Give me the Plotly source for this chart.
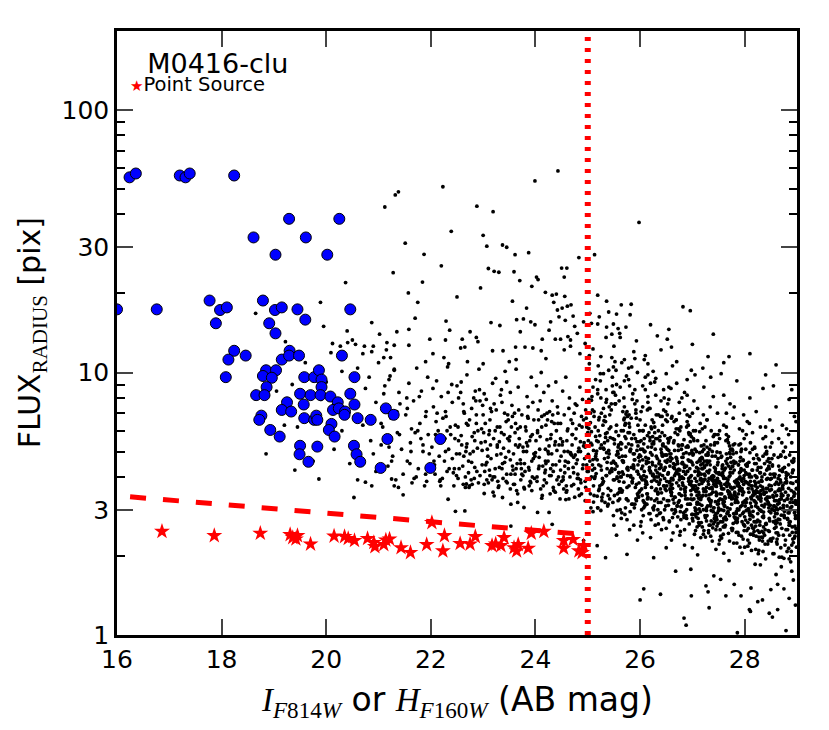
"""
plot.py - FLUX_RADIUS vs magnitude for the M0416 cluster field.

Black dots: all detections, blue circles: cluster members,
red stars: point sources, dashed red: stellar locus cut,
dotted red: magnitude limit.
"""

import plotly.graph_objects as go

# ---- cluster members (blue circles): (mag, radius) ----
CLUSTER = [
    (16.24, 55.4), (16.36, 57.3), (17.2, 56.3), (17.31, 55.4), (17.39, 57.3), (18.24, 56.3),
    (18.61, 32.7), (19.29, 38.5), (19.61, 32.7), (19.03, 28.1), (20.02, 28.1), (20.25, 38.5),
    (16.0, 17.4), (16.76, 17.4), (17.77, 18.8), (17.97, 17.3), (18.1, 17.7), (17.89, 15.4),
    (18.79, 18.8), (19.02, 17.3), (19.15, 17.7), (19.45, 17.4), (19.6, 15.9), (18.91, 15.4),
    (19.03, 14.1), (20.46, 17.4), (18.24, 12.1), (18.13, 11.2), (18.46, 11.6), (18.08, 9.6),
    (19.3, 12.1), (19.15, 11.2), (19.29, 11.6), (19.48, 11.6), (20.3, 11.6), (18.85, 10.2),
    (18.79, 9.7), (19.04, 10.2), (18.96, 9.55), (18.86, 8.8), (18.66, 8.2), (18.82, 8.2),
    (19.58, 9.6), (19.77, 9.6), (19.86, 10.2), (19.91, 9.4), (19.91, 8.8), (20.54, 9.6),
    (19.5, 8.3), (19.7, 8.2), (19.89, 8.2), (20.08, 8.1), (20.46, 8.3), (19.25, 7.7),
    (19.57, 7.55), (20.22, 7.7), (20.54, 7.55), (19.15, 7.2), (19.33, 7.1), (20.13, 7.2),
    (20.24, 7.3), (20.36, 7.1), (20.35, 6.9), (21.14, 7.3), (21.29, 6.9), (18.76, 6.85),
    (18.72, 6.6), (19.58, 6.7), (19.77, 6.6), (19.81, 6.85), (19.83, 6.6), (20.6, 6.7),
    (20.85, 6.6), (20.1, 6.37), (20.05, 6.04), (20.16, 5.7), (18.93, 6.04), (19.11, 5.7),
    (21.17, 5.58), (22.18, 5.58), (19.5, 5.26), (19.83, 5.22), (20.53, 5.26), (19.49, 4.88),
    (20.58, 4.88), (19.66, 4.57), (20.65, 4.57), (21.04, 4.33), (21.99, 4.33),
]

# ---- point sources (red stars) ----
POINT_SRC = [
    (16.86, 2.48), (17.86, 2.39), (18.74, 2.44), (19.31, 2.41), (19.36, 2.35), (19.42, 2.32),
    (19.45, 2.39), (19.70, 2.22), (20.15, 2.38), (20.35, 2.37), (20.42, 2.33), (20.54, 2.29),
    (20.79, 2.33), (20.91, 2.25), (20.93, 2.17), (21.1, 2.21), (21.14, 2.30), (21.21, 2.32),
    (21.43, 2.15), (21.61, 2.06), (21.92, 2.21), (22.02, 2.68), (22.26, 2.39), (22.23, 2.09),
    (22.56, 2.23), (22.75, 2.22), (22.85, 2.37), (23.17, 2.19), (23.24, 2.22), (23.34, 2.19),
    (23.4, 2.35), (23.59, 2.15), (23.67, 2.21), (23.64, 2.09), (23.86, 2.14), (23.92, 2.44),
    (24.16, 2.48), (24.54, 2.29), (24.54, 2.14), (24.72, 2.31), (24.83, 2.09), (24.92, 2.19),
    (24.89, 2.06),
]

# stellar locus cut and magnitude limit
LOCUS_MAG = [16.25, 25.0]
LOCUS_RAD = [3.36, 2.41]
MAG_LIMIT = 25.0

# ---- all detections (black dots) ----
DOTS_UPPER = [
    (21.38, 48.8), (21.32, 47.5), (21.12, 42.7), (22.23, 51), (22.88, 43), (23.19, 41), (23.99, 53.7),
    (24.43, 58.6), (22.39, 34.5), (23.0, 33.3), (23.07, 30.3), (23.37, 30.6), (23.45, 30), (23.61, 28.1),
    (23.87, 28.6), (21.51, 31.1), (21.87, 28.2), (23.1, 24.9), (23.21, 24.3), (23.3, 24.1), (23.59, 24.2),
    (23.7, 22.4), (24.02, 23.1), (23.93, 21.3), (24.05, 22.6), (24.5, 25), (24.6, 25), (24.55, 23.1),
    (24.83, 27.4), (25.13, 28.1), (25.98, 37.3), (21.28, 24.0), (21.84, 22.1), (20.37, 22.0), (23.56, 18.7),
    (24.19, 20.2), (24.32, 19.7), (24.4, 19.9), (24.35, 18.5), (24.56, 19.5), (23.83, 17.6), (24.42, 17.3),
    (24.51, 17.6), (24.61, 17.9), (24.68, 18.1), (25.19, 19.7), (25.36, 18.7), (25.64, 18.1), (25.83, 18.2),
    (26.82, 17.8), (26.96, 17.2), (25.81, 16.6), (25.04, 16.8), (25.4, 17), (25.55, 16.7), (25.22, 16.3),
    (21.57, 20.1), (21.75, 18.5), (19.89, 18.5), (21.7, 16.1), (21.58, 14.6), (21.35, 14.3), (21.02, 14.0),
    (20.87, 15.5), (22.29, 15.7), (23.15, 15.5), (23.32, 15.1), (23.64, 15.9), (23.77, 16), (23.91, 15.6),
    (23.99, 15.2), (24.29, 15.6), (24.45, 16.3), (24.57, 15.8), (24.72, 16.4), (24.75, 15), (24.92, 15.6),
    (25.07, 15.4), (25.19, 15.3), (25.36, 14.9), (25.49, 15.3), (25.58, 14.7), (25.73, 14.9), (22.36, 14.5),
    (22.28, 13.3), (22.6, 13.4), (22.75, 14.3), (22.87, 13.6), (22.9, 13.1), (23.71, 14.3), (24.13, 13.4),
    (24.26, 14.5), (24.38, 13.4), (24.48, 13.4), (24.62, 13.7), (24.67, 13.3), (24.8, 14.1), (25.35, 13.6),
    (25.46, 14), (25.61, 14.1), (25.62, 13.6), (25.93, 13.2), (26.33, 13.8), (26.52, 13.4), (21.98, 13.4),
    (21.16, 13.0), (21.3, 12.7), (21.58, 12.7), (20.27, 12.6), (20.41, 13.0), (20.56, 12.8), (20.73, 12.6),
    (20.87, 12.0), (20.09, 11.9), (21.1, 11.4), (21.23, 11.4), (22.04, 11.8), (22.25, 11.4), (22.34, 10.8),
    (22.57, 12.4), (22.65, 12.5), (23.18, 12.1), (23.38, 12.1), (23.62, 12.5), (23.63, 11.2), (23.8, 12.5),
    (23.95, 12.4), (24.11, 12.1), (24.55, 12.2), (24.67, 12.6), (24.2, 11.3), (24.85, 11.8), (24.95, 12.9),
    (25.1, 12.3), (25.25, 11.5), (25.5, 12.6), (25.7, 11.2), (25.88, 12.0), (26.1, 11.6), (26.4, 12.2),
    (26.7, 11.0), (27.0, 12.8), (27.3, 11.5), (27.6, 10.9), (28.1, 11.8), (28.6, 10.7), (26.2, 15.2),
    (26.55, 14.6), (27.4, 14.0), (22.7, 11.0), (23.0, 10.8), (23.5, 11.0), (21.9, 11.0), (22.5, 19.4),
    (22.95, 21.0), (22.2, 25.5),
]

DOTS_LEFT = [
    (18.65, 16.8), (19.22, 13.1), (19.95, 15.0), (20.12, 12.9), (20.4, 14.4), (20.7, 11.8), (20.9, 12.6),
    (20.6, 10.4), (20.82, 9.6), (21.0, 10.9), (20.3, 10.1), (19.6, 10.9), (19.05, 8.5), (19.35, 9.0),
    (20.0, 9.2), (20.75, 8.7), (21.1, 8.3), (20.95, 7.7), (21.2, 9.4), (19.45, 6.2), (19.9, 7.9),
    (20.3, 6.0), (20.7, 6.3), (20.85, 5.5), (21.05, 6.4), (20.9, 4.9), (21.2, 5.2), (19.75, 4.6),
    (20.15, 5.1), (19.2, 6.3), (19.8, 5.2), (20.45, 4.5), (20.95, 4.2), (21.25, 4.6), (20.6, 3.9),
    (21.3, 3.7), (18.85, 4.9), (19.4, 4.25), (21.15, 12.2), (20.5, 13.3), (21.3, 10.3), (21.35, 7.1),
    (21.4, 5.8), (19.86, 3.93), (20.53, 3.34), (20.75, 3.82), (20.87, 3.7), (21.25, 3.93), (21.38, 3.65),
    (21.47, 3.42), (22.33, 3.29), (22.68, 3.76), (22.47, 2.96), (22.65, 2.97), (23.02, 3.46), (23.21, 3.39),
    (23.37, 3.34), (23.53, 3.15), (23.66, 3.2), (23.78, 3.06), (24.04, 2.93), (24.26, 2.93), (23.53, 2.6),
    (24.32, 2.64),
]

DOTS_MID = [
    (21.05, 5.3), (21.12, 8.9), (21.18, 4.4), (21.24, 6.7), (21.3, 10.2), (21.36, 5.9), (21.41, 7.6),
    (21.47, 4.1), (21.08, 6.2), (21.22, 9.7), (21.33, 3.9), (21.44, 5.1), (21.15, 7.2), (21.39, 8.4),
    (21.27, 4.8), (21.52, 6.9), (21.55, 4.6), (21.58, 9.1), (21.61, 5.4), (21.64, 3.8), (21.67, 7.8),
    (21.7, 5.9), (21.73, 10.4), (21.76, 4.3), (21.79, 6.4), (21.82, 8.5), (21.85, 5.0), (21.88, 3.7),
    (21.91, 7.1), (21.94, 9.6), (21.97, 4.9), (21.54, 8.0), (21.63, 6.1), (21.72, 4.0), (21.81, 5.6),
    (21.9, 6.8), (21.99, 4.4), (22.02, 5.2), (22.05, 7.4), (22.08, 4.1), (22.11, 9.3), (22.14, 6.0),
    (22.17, 3.85), (22.2, 8.1), (22.23, 5.5), (22.26, 4.6), (22.29, 6.8), (22.32, 10.5), (22.35, 4.3),
    (22.38, 5.8), (22.41, 7.7), (22.44, 3.7), (22.47, 6.3), (22.49, 4.9), (22.04, 8.7), (22.1, 6.5),
    (22.16, 4.8), (22.22, 3.95), (22.28, 7.1), (22.34, 5.1), (22.4, 9.0), (22.46, 5.6), (22.07, 4.45),
    (22.31, 6.0), (22.43, 4.15), (22.52, 6.2), (22.54, 4.3), (22.57, 8.4), (22.59, 5.3), (22.62, 3.75),
    (22.64, 7.0), (22.67, 5.0), (22.69, 9.8), (22.72, 4.6), (22.74, 6.6), (22.77, 3.9), (22.79, 5.7),
    (22.82, 8.0), (22.84, 4.35), (22.87, 6.9), (22.89, 5.15), (22.92, 10.3), (22.94, 4.05), (22.97, 6.1),
    (22.99, 7.5), (22.53, 5.5), (22.58, 9.2), (22.63, 4.8), (22.68, 6.4), (22.73, 3.65), (22.78, 7.3),
    (22.83, 5.9), (22.88, 4.2), (22.93, 8.6), (22.98, 5.05), (22.66, 4.0), (22.86, 7.8), (23.01, 5.9),
    (23.03, 4.2), (23.06, 7.9), (23.08, 5.1), (23.1, 3.8), (23.13, 6.6), (23.15, 4.7), (23.18, 9.1),
    (23.2, 5.6), (23.22, 4.0), (23.25, 7.2), (23.27, 5.3), (23.3, 3.7), (23.32, 6.2), (23.35, 8.6),
    (23.37, 4.5), (23.4, 5.8), (23.42, 10.1), (23.45, 4.1), (23.47, 6.9), (23.49, 5.0), (23.02, 8.3),
    (23.07, 4.55), (23.12, 6.0), (23.17, 3.9), (23.21, 7.6), (23.26, 4.85), (23.31, 5.45), (23.36, 4.3),
    (23.41, 7.0), (23.46, 3.8), (23.04, 6.4), (23.14, 5.3), (23.24, 9.5), (23.34, 4.9), (23.44, 6.5),
    (23.51, 5.7), (23.53, 4.1), (23.55, 7.5), (23.58, 4.9), (23.6, 3.75), (23.62, 6.4), (23.65, 4.5),
    (23.67, 8.8), (23.7, 5.3), (23.72, 3.9), (23.74, 6.9), (23.77, 5.0), (23.79, 3.6), (23.82, 6.0),
    (23.84, 8.1), (23.87, 4.35), (23.89, 5.5), (23.92, 9.6), (23.94, 4.0), (23.97, 6.6), (23.99, 4.8),
    (23.52, 8.4), (23.56, 4.4), (23.61, 5.9), (23.64, 3.55), (23.68, 7.2), (23.71, 4.65), (23.76, 5.2),
    (23.8, 4.2), (23.85, 6.8), (23.88, 3.7), (23.91, 5.7), (23.95, 7.7), (23.98, 3.95), (23.54, 6.2),
    (23.63, 10.3), (23.73, 4.3), (23.83, 5.4), (23.93, 4.6), (23.66, 6.1), (24.01, 5.5), (24.03, 4.0),
    (24.05, 7.2), (24.07, 4.75), (24.1, 3.6), (24.12, 6.2), (24.14, 4.4), (24.16, 8.4), (24.19, 5.1),
    (24.21, 3.8), (24.23, 6.6), (24.25, 4.9), (24.28, 3.45), (24.3, 5.8), (24.32, 7.8), (24.34, 4.2),
    (24.37, 5.3), (24.39, 9.2), (24.41, 3.9), (24.43, 6.4), (24.46, 4.6), (24.48, 5.6), (24.02, 8.9),
    (24.06, 4.3), (24.09, 5.7), (24.13, 3.4), (24.17, 6.9), (24.2, 4.5), (24.24, 5.0), (24.27, 4.05),
    (24.31, 6.5), (24.35, 3.55), (24.38, 5.45), (24.42, 7.4), (24.45, 3.75), (24.49, 4.8), (24.04, 6.0),
    (24.11, 10.0), (24.18, 4.15), (24.26, 5.25), (24.33, 4.45), (24.4, 6.0), (24.47, 3.3), (24.22, 7.0),
    (24.51, 5.3), (24.53, 3.9), (24.55, 6.9), (24.57, 4.6), (24.59, 3.5), (24.61, 6.0), (24.63, 4.3),
    (24.65, 8.0), (24.67, 4.95), (24.69, 3.7), (24.71, 6.4), (24.73, 4.75), (24.75, 3.35), (24.77, 5.6),
    (24.79, 7.5), (24.81, 4.1), (24.83, 5.15), (24.85, 8.8), (24.87, 3.8), (24.89, 6.2), (24.91, 4.45),
    (24.93, 5.4), (24.95, 3.25), (24.97, 6.7), (24.99, 4.2), (24.52, 8.5), (24.56, 4.15), (24.6, 5.5),
    (24.64, 3.3), (24.68, 6.6), (24.72, 4.35), (24.76, 4.85), (24.8, 3.95), (24.84, 6.3), (24.88, 3.45),
    (24.92, 5.25), (24.96, 7.2), (24.54, 3.6), (24.58, 9.6), (24.62, 5.0), (24.66, 4.0), (24.7, 5.8),
    (24.74, 7.0), (24.78, 4.5), (24.82, 3.6), (24.86, 5.0), (24.9, 7.9), (24.94, 4.7),
]

DOTS_MID_EXTRA = [
    (22.55, 4.9), (22.71, 6.3), (22.83, 3.95), (22.96, 5.4), (23.05, 4.45), (23.16, 7.1), (23.28, 3.85),
    (23.39, 5.15), (23.48, 6.6), (23.57, 4.25), (23.69, 5.6), (23.78, 3.65), (23.86, 7.4), (23.96, 4.7),
    (24.04, 5.9), (24.15, 3.7), (24.24, 4.6), (24.33, 6.9), (24.44, 4.0), (24.52, 5.45), (24.6, 3.55),
    (24.69, 4.85), (24.78, 6.1), (24.86, 3.9), (24.95, 5.2), (22.62, 7.6), (22.78, 4.55), (22.9, 6.0),
    (23.02, 3.75), (23.11, 5.8), (23.23, 4.3), (23.33, 8.2), (23.43, 4.75), (23.52, 3.6), (23.62, 5.3),
    (23.74, 4.1), (23.81, 6.2), (23.9, 3.85), (24.0, 4.95), (24.09, 7.8), (24.19, 4.25), (24.29, 5.6),
    (24.38, 3.5), (24.48, 6.4), (24.56, 4.4), (24.64, 7.3), (24.73, 3.75), (24.82, 5.0), (24.9, 4.3),
    (24.98, 6.2), (22.68, 5.2), (22.85, 8.5), (23.0, 6.9), (23.13, 4.05), (23.27, 6.2), (23.38, 3.95),
    (23.5, 5.5), (23.6, 7.0), (23.72, 4.5), (23.85, 5.25), (23.93, 3.55), (24.07, 4.4), (24.2, 6.3),
    (24.3, 4.05), (24.41, 5.05), (24.5, 3.85), (24.62, 4.55), (24.7, 5.3), (24.8, 4.65), (24.88, 6.8),
    (24.96, 3.65), (22.74, 3.7), (23.19, 3.5), (23.66, 3.45), (24.12, 3.32), (24.58, 3.28), (24.84, 3.4),
    (22.5, 8.9), (23.45, 9.2), (24.25, 8.9),
]

DOTS_FRINGE = [
    (26.55, 7.9), (26.7, 9.1), (26.85, 8.4), (26.98, 10.2), (27.1, 7.3), (27.22, 8.8), (27.35, 9.6),
    (27.48, 7.0), (27.6, 8.2), (27.72, 7.6), (27.85, 9.3), (27.98, 6.9), (28.1, 8.0), (28.22, 7.1),
    (28.35, 8.7), (28.48, 6.6), (28.6, 7.4), (28.72, 6.3), (28.85, 7.9), (28.95, 6.8), (26.62, 10.6),
    (26.9, 6.9), (27.05, 9.8), (27.28, 6.6), (27.55, 9.9), (27.8, 7.4), (28.05, 6.5), (28.3, 6.2),
    (28.55, 8.9), (28.8, 6.1), (26.75, 7.0), (27.15, 6.4), (27.4, 8.1), (27.65, 6.2), (27.9, 6.1),
    (28.15, 5.9), (28.4, 5.7), (28.65, 5.6), (28.9, 5.4), (28.98, 6.5), (26.45, 8.6), (26.3, 9.5),
    (26.15, 10.8), (26.05, 8.9), (25.9, 11.3), (26.6, 12.5), (27.2, 10.4), (27.7, 11.5), (28.4, 9.8),
    (28.9, 8.6),
]

DOTS_BAND_TOP = [
    (25.1, 8.8), (25.3, 9.9), (25.5, 8.4), (25.7, 9.3), (25.9, 8.6), (26.1, 9.6), (26.3, 8.2),
    (25.2, 10.6), (25.45, 7.6), (25.65, 10.9), (25.85, 7.9), (26.05, 7.4), (26.25, 10.1), (26.45, 7.2),
    (25.05, 7.0), (25.25, 8.0), (25.55, 9.0), (25.75, 7.1), (25.95, 10.0), (26.15, 8.1), (26.35, 6.9),
    (26.55, 8.8), (26.75, 7.7), (26.95, 6.8), (25.15, 9.4), (25.4, 10.2), (25.6, 7.8), (25.8, 8.9),
    (26.0, 6.6), (26.2, 9.1), (26.4, 7.8), (26.6, 6.7), (26.8, 8.0), (27.0, 7.0), (25.35, 8.6),
    (25.52, 11.0), (25.78, 10.4), (26.08, 11.2), (26.5, 9.9), (26.9, 9.4),
]

DOTS_LOW = [
    (26.07, 1.50), (26.0, 1.36), (26.39, 1.43), (26.84, 1.16), (26.98, 1.41), (27.26, 1.54), (27.32, 1.27),
    (27.64, 1.41), (27.93, 1.41), (28.09, 1.25), (28.25, 1.34), (28.47, 1.21), (28.63, 1.25), (28.79, 1.04),
    (28.85, 1.38), (28.34, 1.36), (28.5, 1.49), (28.63, 1.56), (28.12, 1.51), (27.8, 1.56), (27.54, 1.63),
    (27.41, 1.68), (26.97, 1.78), (26.68, 1.75), (26.26, 1.97), (25.75, 2.03), (25.34, 1.97), (25.18, 2.19),
    (24.92, 2.29), (27.3, 1.46), (26.88, 1.09), (27.86, 1.02), (28.11, 1.23), (28.53, 1.17), (28.93, 1.62),
    (28.97, 1.3), (28.7, 1.82), (28.2, 1.86), (27.7, 1.92), (27.1, 2.02), (26.5, 2.15), (25.95, 2.3),
    (25.55, 2.4), (28.9, 1.75), (28.4, 1.95), (27.95, 2.05), (27.45, 2.12), (26.85, 2.2), (26.2, 2.35),
    (28.75, 1.5), (25.5, 2.62), (25.8, 2.52), (26.05, 2.45), (26.6, 2.3), (27.0, 2.15), (27.6, 2.05),
    (28.3, 1.85), (28.6, 1.7),
]

# dense faint population, one list per 0.25 mag column
CORE_2500 = [
    (25.13, 4.31), (25.02, 6.12), (25.21, 3.55), (25.07, 7.84), (25.17, 5.02), (25.10, 4.66), (25.24, 9.3),
    (25.04, 3.92), (25.15, 5.71), (25.19, 8.6), (25.01, 4.88), (25.11, 3.21), (25.22, 6.75), (25.06, 5.38),
    (25.16, 4.12), (25.09, 7.2), (25.20, 5.45), (25.03, 10.8), (25.14, 4.02), (25.23, 3.7), (25.08, 8.1),
    (25.18, 3.38), (25.05, 6.44), (25.12, 7.1), (25.00, 5.9), (25.21, 4.45), (25.10, 2.95), (25.15, 4.8),
    (25.03, 11.6), (25.19, 3.05), (25.07, 5.95), (25.24, 9.9),
]
CORE_2525 = [
    (25.45, 4.52), (25.33, 6.8), (25.39, 3.62), (25.26, 5.3), (25.48, 8.4), (25.36, 4.05), (25.30, 7.3),
    (25.42, 3.3), (25.34, 5.66), (25.47, 9.6), (25.28, 3.95), (25.40, 5.05), (25.37, 4.3), (25.44, 6.2),
    (25.25, 2.98), (25.32, 4.7), (25.49, 10.5), (25.35, 7.7), (25.41, 4.9), (25.29, 3.45), (25.46, 11.4),
    (25.38, 5.5), (25.31, 6.55), (25.43, 4.22), (25.27, 3.75), (25.34, 5.85), (25.47, 8.9), (25.39, 3.15),
    (25.30, 5.15), (25.42, 4.15), (25.36, 7.9), (25.49, 2.85),
]
CORE_2550 = [
    (25.56, 4.4), (25.68, 6.0), (25.60, 3.5), (25.73, 5.2), (25.53, 7.6), (25.64, 4.0), (25.70, 6.7),
    (25.58, 3.25), (25.51, 5.55), (25.66, 4.62), (25.62, 8.8), (25.74, 9.7), (25.55, 4.85), (25.69, 3.82),
    (25.59, 5.75), (25.65, 2.92), (25.52, 4.28), (25.71, 6.3), (25.61, 3.6), (25.57, 5.0), (25.67, 7.1),
    (25.50, 4.55), (25.72, 3.05), (25.63, 5.4), (25.54, 10.2), (25.68, 4.1), (25.59, 5.3), (25.64, 2.78),
    (25.73, 6.95), (25.56, 3.95), (25.70, 7.4), (25.51, 3.4), (25.66, 4.18), (25.60, 4.75), (25.74, 3.3),
    (25.53, 8.2),
]
CORE_2575 = [
    (25.88, 4.3), (25.77, 5.9), (25.96, 3.4), (25.82, 5.1), (25.92, 7.0), (25.85, 3.85), (25.99, 4.6),
    (25.79, 6.4), (25.90, 3.15), (25.94, 5.45), (25.76, 4.05), (25.86, 8.3), (25.97, 4.75), (25.81, 2.95),
    (25.91, 3.65), (25.84, 5.6), (25.95, 4.2), (25.78, 9.4), (25.89, 4.9), (25.98, 3.5), (25.83, 6.7),
    (25.93, 3.25), (25.80, 6.2), (25.87, 4.45), (25.75, 2.75), (25.96, 5.25), (25.85, 3.8), (25.90, 7.6),
    (25.78, 5.35), (25.94, 7.8), (25.82, 4.0), (25.99, 6.0), (25.88, 2.62), (25.76, 4.35), (25.92, 3.3),
    (25.84, 10.5),
]
CORE_2600 = [
    (26.20, 4.2), (26.08, 5.6), (26.14, 3.3), (26.01, 4.8), (26.23, 6.6), (26.11, 3.75), (26.05, 4.4),
    (26.17, 5.9), (26.09, 3.1), (26.22, 5.2), (26.03, 3.95), (26.15, 7.7), (26.12, 4.6), (26.19, 2.9),
    (26.00, 3.55), (26.07, 5.35), (26.24, 4.05), (26.10, 8.6), (26.16, 4.7), (26.04, 3.4), (26.21, 6.2),
    (26.13, 3.15), (26.06, 6.0), (26.18, 4.25), (26.02, 2.7), (26.09, 5.0), (26.22, 3.65), (26.14, 7.2),
    (26.05, 5.1), (26.17, 7.3), (26.11, 3.85), (26.24, 5.7), (26.01, 2.6), (26.20, 4.15), (26.08, 3.2),
    (26.15, 9.8), (26.03, 3.0), (26.19, 5.5), (26.12, 4.0), (26.23, 4.55),
]
CORE_2625 = [
    (26.31, 4.0), (26.43, 5.3), (26.35, 3.2), (26.48, 4.6), (26.28, 6.2), (26.39, 3.6), (26.45, 4.25),
    (26.33, 5.6), (26.26, 3.0), (26.41, 4.95), (26.37, 3.8), (26.49, 7.1), (26.30, 4.4), (26.44, 2.8),
    (26.34, 3.45), (26.40, 5.1), (26.27, 3.9), (26.46, 8.0), (26.36, 4.5), (26.32, 3.3), (26.42, 5.9),
    (26.25, 3.05), (26.47, 5.75), (26.38, 4.1), (26.29, 2.62), (26.43, 4.8), (26.34, 3.5), (26.39, 6.8),
    (26.48, 4.85), (26.31, 6.9), (26.45, 3.7), (26.26, 5.45), (26.41, 2.52), (26.35, 4.0), (26.49, 3.1),
    (26.28, 9.2), (26.37, 2.9), (26.44, 5.25), (26.32, 3.85), (26.40, 4.35),
]
CORE_2650 = [
    (26.63, 3.9), (26.52, 5.1), (26.71, 3.1), (26.57, 4.4), (26.67, 5.9), (26.60, 3.5), (26.74, 4.1),
    (26.54, 5.4), (26.65, 2.9), (26.69, 4.75), (26.51, 3.7), (26.61, 6.8), (26.72, 4.25), (26.56, 2.72),
    (26.66, 3.35), (26.59, 4.9), (26.70, 3.8), (26.53, 7.6), (26.64, 4.35), (26.73, 3.2), (26.58, 5.65),
    (26.68, 2.95), (26.55, 5.5), (26.62, 3.95), (26.50, 2.55), (26.71, 4.6), (26.60, 3.4), (26.65, 6.5),
    (26.53, 4.65), (26.69, 6.6), (26.57, 3.6), (26.74, 5.25), (26.63, 2.45), (26.51, 3.85), (26.67, 3.0),
    (26.59, 8.7), (26.72, 2.82), (26.55, 5.05), (26.61, 3.75), (26.70, 4.2), (26.66, 4.05), (26.52, 3.25),
    (26.64, 4.5), (26.58, 3.55), (26.73, 6.1),
]
CORE_2675 = [
    (26.95, 3.8), (26.83, 4.9), (26.89, 3.0), (26.76, 4.25), (26.98, 5.7), (26.86, 3.4), (26.80, 4.0),
    (26.92, 5.2), (26.84, 2.8), (26.97, 4.6), (26.78, 3.6), (26.90, 6.5), (26.87, 4.1), (26.94, 2.65),
    (26.75, 3.25), (26.82, 4.75), (26.99, 3.7), (26.85, 7.2), (26.91, 4.2), (26.79, 3.1), (26.96, 5.45),
    (26.88, 2.85), (26.81, 5.3), (26.93, 3.85), (26.77, 2.48), (26.84, 4.45), (26.97, 3.3), (26.89, 6.2),
    (26.80, 4.5), (26.92, 6.3), (26.86, 3.5), (26.99, 5.05), (26.76, 2.4), (26.95, 3.75), (26.83, 2.92),
    (26.90, 8.2), (26.78, 2.75), (26.94, 4.9), (26.87, 3.65), (26.98, 4.05), (26.81, 3.95), (26.91, 3.15),
    (26.85, 4.35), (26.75, 3.45), (26.96, 5.85),
]
CORE_2700 = [
    (27.06, 3.7), (27.18, 4.75), (27.10, 2.9), (27.23, 4.1), (27.03, 5.5), (27.14, 3.3), (27.20, 3.9),
    (27.08, 5.0), (27.01, 2.72), (27.16, 4.45), (27.12, 3.5), (27.24, 6.2), (27.05, 3.95), (27.19, 2.58),
    (27.09, 3.15), (27.15, 4.6), (27.02, 3.6), (27.21, 6.9), (27.11, 4.05), (27.07, 3.0), (27.17, 5.25),
    (27.00, 2.78), (27.22, 5.1), (27.13, 3.75), (27.04, 2.42), (27.18, 4.3), (27.09, 3.2), (27.14, 5.95),
    (27.23, 4.35), (27.06, 6.0), (27.20, 3.4), (27.01, 4.85), (27.16, 2.35), (27.10, 3.62), (27.24, 2.85),
    (27.03, 7.8), (27.12, 2.68), (27.19, 4.7), (27.07, 3.55), (27.15, 3.9), (27.21, 3.85), (27.05, 3.05),
    (27.11, 4.2), (27.17, 3.35), (27.02, 5.6), (27.22, 2.5), (27.08, 2.9), (27.13, 4.15),
]
CORE_2725 = [
    (27.38, 3.6), (27.27, 4.6), (27.46, 2.82), (27.32, 3.95), (27.42, 5.3), (27.35, 3.2), (27.49, 3.8),
    (27.29, 4.85), (27.40, 2.65), (27.44, 4.3), (27.26, 3.4), (27.36, 6.0), (27.47, 3.85), (27.31, 2.5),
    (27.41, 3.05), (27.34, 4.45), (27.45, 3.5), (27.28, 6.6), (27.39, 3.92), (27.48, 2.92), (27.33, 5.1),
    (27.43, 2.7), (27.30, 4.95), (27.37, 3.65), (27.25, 2.36), (27.46, 4.15), (27.35, 3.1), (27.40, 5.7),
    (27.28, 4.2), (27.44, 5.8), (27.32, 3.3), (27.49, 4.7), (27.38, 2.28), (27.26, 3.52), (27.42, 2.78),
    (27.34, 7.4), (27.47, 2.6), (27.30, 4.55), (27.36, 3.45), (27.45, 3.78), (27.41, 3.75), (27.27, 2.98),
    (27.39, 4.05), (27.33, 3.25), (27.48, 5.4), (27.31, 2.45), (27.43, 2.85), (27.37, 4.0),
]
CORE_2750 = [
    (27.70, 3.5), (27.58, 4.45), (27.64, 2.75), (27.51, 3.85), (27.73, 5.1), (27.61, 3.1), (27.55, 3.7),
    (27.67, 4.7), (27.59, 2.58), (27.72, 4.15), (27.53, 3.3), (27.65, 5.8), (27.62, 3.75), (27.69, 2.44),
    (27.50, 2.98), (27.57, 4.3), (27.74, 3.42), (27.60, 6.3), (27.66, 3.8), (27.54, 2.85), (27.71, 4.95),
    (27.63, 2.62), (27.56, 4.8), (27.68, 3.55), (27.52, 2.3), (27.59, 4.02), (27.72, 3.02), (27.64, 5.5),
    (27.55, 4.08), (27.67, 5.55), (27.61, 3.22), (27.74, 4.55), (27.51, 2.22), (27.70, 3.44), (27.58, 2.7),
    (27.65, 7.0), (27.53, 2.52), (27.69, 4.4), (27.62, 3.36), (27.73, 3.66), (27.56, 3.62), (27.66, 2.9),
    (27.60, 3.95), (27.50, 3.16), (27.71, 5.25), (27.54, 2.38), (27.63, 2.78), (27.68, 3.9),
]
CORE_2775 = [
    (27.81, 3.4), (27.93, 4.3), (27.85, 2.68), (27.98, 3.75), (27.78, 4.9), (27.89, 3.0), (27.95, 3.6),
    (27.83, 4.55), (27.76, 2.5), (27.91, 4.0), (27.87, 3.2), (27.99, 5.6), (27.80, 3.65), (27.94, 2.38),
    (27.84, 2.9), (27.90, 4.15), (27.77, 3.32), (27.96, 6.0), (27.86, 3.7), (27.82, 2.78), (27.92, 4.75),
    (27.75, 2.55), (27.97, 4.65), (27.88, 3.45), (27.79, 2.24), (27.93, 3.9), (27.84, 2.95), (27.89, 5.3),
    (27.98, 3.95), (27.81, 5.35), (27.95, 3.12), (27.76, 4.4), (27.91, 2.16), (27.85, 3.35), (27.99, 2.62),
    (27.78, 6.7), (27.87, 2.46), (27.94, 4.25), (27.82, 3.28), (27.90, 3.55), (27.96, 3.52), (27.80, 2.82),
    (27.86, 3.82), (27.92, 3.08), (27.77, 5.05), (27.97, 2.32), (27.83, 2.7), (27.88, 3.78),
]
CORE_2800 = [
    (28.13, 3.3), (28.02, 4.15), (28.21, 2.6), (28.07, 3.62), (28.17, 4.7), (28.10, 2.92), (28.24, 3.5),
    (28.04, 4.4), (28.15, 2.42), (28.19, 3.85), (28.01, 3.1), (28.11, 5.4), (28.22, 3.55), (28.06, 2.3),
    (28.16, 2.82), (28.09, 4.0), (28.20, 3.22), (28.03, 5.8), (28.14, 3.6), (28.23, 2.7), (28.08, 4.55),
    (28.18, 2.48), (28.05, 4.5), (28.12, 3.35), (28.00, 2.16), (28.21, 3.78), (28.10, 2.86), (28.15, 5.1),
    (28.03, 3.82), (28.19, 5.15), (28.07, 3.02), (28.24, 4.25), (28.13, 2.1), (28.01, 3.25), (28.17, 2.55),
    (28.09, 6.4), (28.22, 2.38), (28.05, 4.1), (28.11, 3.18), (28.20, 3.45), (28.16, 3.42), (28.02, 2.74),
    (28.14, 3.7), (28.08, 2.98), (28.23, 4.85),
]
CORE_2825 = [
    (28.45, 3.2), (28.33, 4.0), (28.39, 2.52), (28.26, 3.5), (28.48, 4.55), (28.36, 2.84), (28.30, 3.4),
    (28.42, 4.25), (28.34, 2.35), (28.47, 3.72), (28.28, 3.0), (28.40, 5.2), (28.37, 3.45), (28.44, 2.22),
    (28.25, 2.74), (28.32, 3.88), (28.49, 3.12), (28.35, 5.6), (28.41, 3.5), (28.29, 2.62), (28.46, 4.4),
    (28.38, 2.4), (28.31, 4.35), (28.43, 3.25), (28.27, 2.1), (28.34, 3.66), (28.47, 2.78), (28.39, 4.9),
    (28.30, 3.7), (28.42, 5.0), (28.36, 2.94), (28.49, 4.1), (28.26, 2.04), (28.45, 3.16), (28.33, 2.48),
    (28.40, 6.2), (28.28, 2.3), (28.44, 3.95), (28.37, 3.08), (28.48, 3.35), (28.31, 3.32), (28.41, 2.66),
    (28.35, 3.58), (28.25, 2.9), (28.46, 4.7),
]
CORE_2850 = [
    (28.56, 3.1), (28.68, 3.9), (28.60, 2.45), (28.73, 3.4), (28.53, 4.4), (28.64, 2.76), (28.70, 3.3),
    (28.58, 4.1), (28.51, 2.28), (28.66, 3.6), (28.62, 2.9), (28.74, 5.0), (28.55, 3.35), (28.69, 2.15),
    (28.59, 2.66), (28.65, 3.75), (28.52, 3.02), (28.71, 5.4), (28.61, 3.4), (28.57, 2.55), (28.67, 4.25),
    (28.50, 2.32), (28.72, 4.2), (28.63, 3.15), (28.54, 2.04), (28.68, 3.55), (28.59, 2.7), (28.64, 4.75),
    (28.73, 3.6), (28.56, 4.85), (28.70, 2.86), (28.51, 3.95), (28.66, 1.98), (28.60, 3.06), (28.74, 2.4),
    (28.53, 6.0), (28.62, 2.22), (28.69, 3.82), (28.57, 2.98), (28.65, 3.25),
]
CORE_2875 = [
    (28.88, 3.0), (28.77, 3.8), (28.96, 2.38), (28.82, 3.3), (28.92, 4.25), (28.85, 2.68), (28.99, 3.2),
    (28.79, 3.95), (28.90, 2.2), (28.94, 3.5), (28.76, 2.8), (28.86, 4.85), (28.97, 3.25), (28.81, 2.08),
    (28.91, 2.58), (28.84, 3.62), (28.95, 2.92), (28.78, 5.2), (28.89, 3.3), (28.98, 2.46), (28.83, 4.1),
    (28.93, 2.25), (28.80, 4.05), (28.87, 3.05), (28.75, 1.96), (28.96, 3.45), (28.85, 2.62), (28.90, 4.6),
    (28.78, 3.5), (28.94, 4.7), (28.82, 2.78), (28.99, 3.85), (28.88, 1.9), (28.76, 2.96), (28.92, 2.32),
    (28.84, 5.8),
]

# second layer of the densest part of the faint population, per 0.5 mag
DENSE_250 = [
    (25.04, 4.6), (25.37, 5.9), (25.12, 3.4), (25.46, 4.2), (25.21, 6.6), (25.29, 3.8), (25.08, 5.3),
    (25.41, 7.4), (25.16, 4.9), (25.33, 3.2), (25.02, 7.9), (25.25, 4.4), (25.48, 5.6), (25.11, 3.7),
    (25.39, 4.75), (25.19, 8.3), (25.31, 5.1), (25.06, 3.05), (25.44, 3.55), (25.23, 5.75), (25.35, 4.05),
    (25.14, 6.2), (25.27, 3.35), (25.42, 6.9), (25.09, 4.25), (25.49, 3.9), (25.18, 4.65), (25.38, 3.1),
    (25.26, 7.0), (25.01, 5.5),
]
DENSE_255 = [
    (25.53, 4.5), (25.88, 5.8), (25.61, 3.3), (25.97, 4.1), (25.72, 6.4), (25.79, 3.7), (25.58, 5.2),
    (25.92, 7.2), (25.66, 4.8), (25.84, 3.15), (25.52, 7.6), (25.75, 4.3), (25.99, 5.45), (25.63, 3.6),
    (25.9, 4.65), (25.69, 8.0), (25.81, 5.0), (25.56, 2.98), (25.95, 3.45), (25.73, 5.6), (25.86, 3.95),
    (25.64, 6.0), (25.77, 3.25), (25.93, 6.7), (25.59, 4.15), (25.98, 3.8), (25.68, 4.55), (25.89, 3.05),
    (25.76, 6.8), (25.51, 5.35), (25.83, 4.35), (25.6, 3.85), (25.94, 5.05), (25.71, 2.88), (25.55, 6.3),
    (25.87, 4.9), (25.65, 3.5), (25.8, 5.9), (25.96, 4.45), (25.62, 4.0),
]
DENSE_260 = [
    (26.03, 4.3), (26.38, 5.5), (26.11, 3.15), (26.47, 3.95), (26.22, 6.1), (26.29, 3.55), (26.08, 5.0),
    (26.42, 6.8), (26.16, 4.55), (26.34, 3.0), (26.02, 7.1), (26.25, 4.1), (26.49, 5.2), (26.13, 3.45),
    (26.4, 4.45), (26.19, 7.3), (26.31, 4.8), (26.06, 2.85), (26.45, 3.3), (26.23, 5.35), (26.36, 3.75),
    (26.14, 5.75), (26.27, 3.1), (26.43, 6.3), (26.09, 3.9), (26.48, 3.6), (26.18, 4.35), (26.39, 2.92),
    (26.26, 6.45), (26.01, 5.1), (26.33, 4.15), (26.1, 3.65), (26.44, 4.85), (26.21, 2.75), (26.05, 6.0),
    (26.37, 4.6), (26.15, 3.35), (26.3, 5.6), (26.46, 4.25), (26.12, 3.82), (26.35, 2.65), (26.2, 4.95),
    (26.41, 3.48), (26.07, 4.05), (26.28, 3.25),
]
DENSE_265 = [
    (26.53, 4.1), (26.88, 5.2), (26.61, 3.0), (26.97, 3.75), (26.72, 5.8), (26.79, 3.4), (26.58, 4.75),
    (26.92, 6.3), (26.66, 4.3), (26.84, 2.85), (26.52, 6.5), (26.75, 3.9), (26.99, 4.95), (26.63, 3.28),
    (26.9, 4.2), (26.69, 6.6), (26.81, 4.55), (26.56, 2.7), (26.95, 3.15), (26.73, 5.05), (26.86, 3.55),
    (26.64, 5.4), (26.77, 2.95), (26.93, 5.9), (26.59, 3.7), (26.98, 3.42), (26.68, 4.12), (26.89, 2.78),
    (26.76, 6.0), (26.51, 4.85), (26.83, 3.95), (26.6, 3.48), (26.94, 4.6), (26.71, 2.6), (26.55, 5.6),
    (26.87, 4.38), (26.65, 3.18), (26.8, 5.3), (26.96, 4.0), (26.62, 3.62), (26.85, 2.52), (26.7, 4.7),
    (26.91, 3.3), (26.57, 3.85), (26.78, 3.08), (26.67, 4.45), (26.82, 3.72), (26.54, 3.12), (26.74, 4.28),
    (26.99, 2.88),
]
DENSE_270 = [
    (27.03, 3.7), (27.38, 4.8), (27.11, 2.78), (27.47, 3.45), (27.22, 5.3), (27.29, 3.1), (27.08, 4.35),
    (27.42, 5.8), (27.16, 3.95), (27.34, 2.62), (27.02, 6.0), (27.25, 3.55), (27.49, 4.55), (27.13, 3.02),
    (27.4, 3.85), (27.19, 6.1), (27.31, 4.15), (27.06, 2.5), (27.45, 2.9), (27.23, 4.6), (27.36, 3.25),
    (27.14, 4.95), (27.27, 2.72), (27.43, 5.4), (27.09, 3.4), (27.48, 3.15), (27.18, 3.78), (27.39, 2.56),
    (27.26, 5.5), (27.01, 4.45), (27.33, 3.62), (27.1, 3.2), (27.44, 4.2), (27.21, 2.42), (27.05, 5.1),
    (27.37, 4.0), (27.15, 2.95), (27.3, 4.85), (27.46, 3.68), (27.12, 3.32), (27.35, 2.38), (27.2, 4.3),
    (27.41, 3.05), (27.07, 3.52), (27.28, 2.85), (27.17, 4.1), (27.32, 3.42), (27.04, 2.88), (27.24, 3.92),
    (27.49, 2.66), (27.0, 3.28), (27.27, 4.45), (27.44, 3.88), (27.13, 4.62), (27.36, 2.98), (27.21, 3.6),
    (27.47, 4.98), (27.09, 2.58), (27.31, 3.75), (27.18, 3.12),
]
DENSE_275 = [
    (27.53, 3.45), (27.88, 4.45), (27.61, 2.6), (27.97, 3.2), (27.72, 4.9), (27.79, 2.9), (27.58, 4.05),
    (27.92, 5.35), (27.66, 3.68), (27.84, 2.46), (27.52, 5.6), (27.75, 3.3), (27.99, 4.25), (27.63, 2.82),
    (27.9, 3.58), (27.69, 5.7), (27.81, 3.85), (27.56, 2.34), (27.95, 2.7), (27.73, 4.3), (27.86, 3.02),
    (27.64, 4.6), (27.77, 2.54), (27.93, 5.0), (27.59, 3.16), (27.98, 2.94), (27.68, 3.52), (27.89, 2.4),
    (27.76, 5.1), (27.51, 4.15), (27.83, 3.38), (27.6, 2.98), (27.94, 3.92), (27.71, 2.28), (27.55, 4.75),
    (27.87, 3.72), (27.65, 2.76), (27.8, 4.5), (27.96, 3.42), (27.62, 3.1), (27.85, 2.24), (27.7, 4.0),
    (27.91, 2.85), (27.57, 3.28), (27.78, 2.66), (27.67, 3.82), (27.82, 3.2), (27.54, 2.7), (27.74, 3.65),
    (27.99, 2.5), (27.5, 3.05), (27.77, 4.15), (27.94, 3.62), (27.63, 4.32), (27.86, 2.78), (27.71, 3.35),
    (27.97, 4.62), (27.59, 2.42), (27.81, 3.5), (27.68, 2.92),
]
DENSE_280 = [
    (28.03, 3.2), (28.38, 4.1), (28.11, 2.42), (28.47, 2.96), (28.22, 4.5), (28.29, 2.7), (28.08, 3.75),
    (28.42, 4.9), (28.16, 3.4), (28.34, 2.28), (28.02, 5.1), (28.25, 3.06), (28.49, 3.92), (28.13, 2.62),
    (28.4, 3.3), (28.19, 5.2), (28.31, 3.55), (28.06, 2.18), (28.45, 2.5), (28.23, 3.98), (28.36, 2.8),
    (28.14, 4.25), (28.27, 2.36), (28.43, 4.6), (28.09, 2.92), (28.48, 2.72), (28.18, 3.25), (28.39, 2.22),
    (28.26, 4.7), (28.01, 3.85), (28.33, 3.12), (28.1, 2.76), (28.44, 3.62), (28.21, 2.12), (28.05, 4.4),
    (28.37, 3.44), (28.15, 2.56), (28.3, 4.15), (28.46, 3.15), (28.12, 2.86), (28.35, 2.08), (28.2, 3.7),
    (28.41, 2.64), (28.07, 3.02), (28.28, 2.46), (28.17, 3.52), (28.32, 2.96), (28.04, 2.5), (28.24, 3.36),
    (28.49, 2.32), (28.0, 2.82), (28.27, 3.82), (28.44, 3.35), (28.13, 4.0), (28.36, 2.58), (28.21, 3.1),
    (28.47, 4.3), (28.09, 2.24), (28.31, 3.24), (28.18, 2.7),
]
DENSE_285 = [
    (28.53, 3.0), (28.88, 3.8), (28.61, 2.26), (28.97, 2.78), (28.72, 4.2), (28.79, 2.52), (28.58, 3.5),
    (28.92, 4.55), (28.66, 3.18), (28.84, 2.14), (28.52, 4.7), (28.75, 2.86), (28.99, 3.62), (28.63, 2.45),
    (28.9, 3.08), (28.69, 4.8), (28.81, 3.3), (28.56, 2.04), (28.95, 2.34), (28.73, 3.72), (28.86, 2.62),
    (28.64, 3.95), (28.77, 2.2), (28.93, 4.25), (28.59, 2.72), (28.98, 2.54), (28.68, 3.04), (28.89, 2.08),
    (28.76, 4.35), (28.51, 3.58), (28.83, 2.92), (28.6, 2.58), (28.94, 3.38), (28.71, 1.98), (28.55, 4.1),
    (28.87, 3.2), (28.65, 2.4), (28.8, 3.85), (28.96, 2.94), (28.62, 2.68), (28.85, 1.95), (28.7, 3.45),
    (28.91, 2.46), (28.57, 2.82), (28.78, 2.3), (28.67, 3.28), (28.82, 2.76), (28.54, 2.34), (28.74, 3.12),
    (28.99, 2.16),
]

# third layer, per 1 mag
LAYER3_25 = [
    (25.07, 4.0), (25.63, 5.1), (25.22, 3.6), (25.88, 4.4), (25.41, 6.1), (25.15, 4.7), (25.74, 3.3),
    (25.32, 5.4), (25.96, 6.3), (25.51, 3.9), (25.03, 5.8), (25.68, 4.6), (25.27, 3.25), (25.84, 5.3),
    (25.46, 4.3), (25.12, 6.8), (25.57, 3.45), (25.93, 3.75), (25.36, 4.95), (25.79, 6.9), (25.19, 3.05),
    (25.6, 4.15), (25.45, 7.2), (25.99, 4.85), (25.09, 4.45), (25.71, 5.7), (25.3, 3.85), (25.86, 3.15),
    (25.54, 5.95), (25.24, 5.15), (25.66, 3.55), (25.39, 3.4), (25.91, 5.6), (25.05, 3.45), (25.77, 4.25),
    (25.49, 4.6), (25.17, 5.5), (25.82, 4.05), (25.34, 6.5), (25.58, 4.9), (25.13, 3.95), (25.69, 6.6),
    (25.43, 5.65), (25.97, 3.35), (25.26, 4.25), (25.62, 3.0), (25.81, 5.05), (25.37, 4.55), (25.01, 4.2),
    (25.53, 7.6), (25.75, 3.65), (25.2, 6.0), (25.89, 4.65), (25.48, 3.2), (25.65, 5.35), (25.11, 5.05),
    (25.94, 4.2), (25.29, 6.3), (25.56, 4.0), (25.72, 4.8),
]
LAYER3_26 = [
    (26.04, 3.9), (26.57, 4.9), (26.21, 3.3), (26.83, 4.2), (26.38, 5.7), (26.12, 4.5), (26.71, 3.1),
    (26.29, 5.1), (26.94, 5.8), (26.46, 3.7), (26.02, 5.5), (26.64, 4.35), (26.25, 3.05), (26.88, 4.95),
    (26.43, 4.05), (26.1, 6.3), (26.55, 3.25), (26.97, 3.55), (26.33, 4.7), (26.78, 6.2), (26.17, 2.9),
    (26.6, 3.95), (26.49, 6.6), (26.99, 4.55), (26.08, 4.2), (26.73, 5.3), (26.31, 3.6), (26.86, 2.95),
    (26.53, 5.6), (26.23, 4.85), (26.67, 3.35), (26.4, 3.2), (26.91, 5.25), (26.06, 3.25), (26.76, 4.0),
    (26.48, 4.35), (26.15, 5.2), (26.81, 3.8), (26.35, 6.0), (26.58, 4.6), (26.13, 3.75), (26.69, 6.1),
    (26.44, 5.35), (26.96, 3.15), (26.27, 4.0), (26.62, 2.8), (26.8, 4.75), (26.37, 4.3), (26.01, 4.0),
    (26.52, 6.9), (26.75, 3.45), (26.19, 5.65), (26.89, 4.4), (26.47, 3.0), (26.66, 5.05), (26.11, 4.75),
    (26.93, 3.95), (26.28, 5.9), (26.56, 3.8), (26.72, 4.5), (26.05, 4.65), (26.59, 3.5), (26.24, 4.45),
    (26.85, 3.6), (26.39, 3.9), (26.14, 3.45), (26.7, 4.15), (26.32, 2.85), (26.95, 4.3), (26.5, 3.55),
    (26.03, 3.6), (26.65, 5.5), (26.26, 5.35), (26.87, 3.3), (26.42, 4.85), (26.09, 5.0), (26.54, 4.15),
    (26.98, 3.85), (26.34, 3.45), (26.79, 5.1), (26.18, 4.25), (26.61, 4.7), (26.45, 2.75), (26.92, 4.65),
    (26.07, 3.05), (26.74, 3.7), (26.3, 4.25), (26.84, 5.55), (26.51, 4.55), (26.22, 3.85),
]
LAYER3_27 = [
    (27.04, 3.6), (27.57, 4.4), (27.21, 3.0), (27.83, 3.8), (27.38, 5.0), (27.12, 4.1), (27.71, 2.85),
    (27.29, 4.6), (27.94, 5.1), (27.46, 3.4), (27.02, 4.9), (27.64, 3.95), (27.25, 2.8), (27.88, 4.45),
    (27.43, 3.7), (27.1, 5.5), (27.55, 3.0), (27.97, 3.2), (27.33, 4.25), (27.78, 5.3), (27.17, 2.68),
    (27.6, 3.6), (27.49, 5.8), (27.99, 4.05), (27.08, 3.85), (27.73, 4.75), (27.31, 3.3), (27.86, 2.7),
    (27.53, 4.95), (27.23, 4.4), (27.67, 3.05), (27.4, 2.95), (27.91, 4.6), (27.06, 2.98), (27.76, 3.6),
    (27.48, 3.95), (27.15, 4.7), (27.81, 3.45), (27.35, 5.3), (27.58, 4.15), (27.13, 3.42), (27.69, 5.4),
    (27.44, 4.8), (27.96, 2.9), (27.27, 3.65), (27.62, 2.58), (27.8, 4.25), (27.37, 3.9), (27.01, 3.62),
    (27.52, 6.0), (27.75, 3.15), (27.19, 5.0), (27.89, 3.95), (27.47, 2.75), (27.66, 4.5), (27.11, 4.3),
    (27.93, 3.55), (27.28, 5.2), (27.56, 3.45), (27.72, 4.05), (27.05, 4.2), (27.59, 3.2), (27.24, 4.05),
    (27.85, 3.25), (27.39, 3.5), (27.14, 3.15), (27.7, 3.75), (27.32, 2.62), (27.95, 3.85), (27.5, 3.25),
    (27.03, 3.3), (27.65, 4.9), (27.26, 4.85), (27.87, 3.0), (27.42, 4.35), (27.09, 4.55), (27.54, 3.78),
    (27.98, 3.5), (27.34, 3.12), (27.79, 4.6), (27.18, 3.88), (27.61, 4.25), (27.45, 2.52), (27.92, 4.2),
    (27.07, 2.82), (27.74, 3.38), (27.3, 3.85), (27.84, 4.95), (27.51, 4.1), (27.22, 3.52), (27.16, 3.28),
    (27.41, 4.02), (27.63, 3.32), (27.82, 2.8), (27.36, 2.72), (27.9, 3.68), (27.2, 4.5), (27.68, 2.95),
    (27.57, 3.6), (27.0, 2.88), (27.77, 4.38), (27.44, 3.22), (27.13, 2.62), (27.98, 2.64), (27.33, 4.6),
    (27.6, 2.78), (27.27, 3.05), (27.85, 3.9), (27.48, 4.45), (27.71, 3.5),
]
LAYER3_28 = [
    (28.04, 3.3), (28.57, 4.0), (28.21, 2.7), (28.83, 3.4), (28.38, 4.5), (28.12, 3.7), (28.71, 2.55),
    (28.29, 4.15), (28.94, 4.6), (28.46, 3.05), (28.02, 4.45), (28.64, 3.55), (28.25, 2.5), (28.88, 4.0),
    (28.43, 3.35), (28.1, 4.95), (28.55, 2.7), (28.97, 2.85), (28.33, 3.85), (28.78, 4.75), (28.17, 2.4),
    (28.6, 3.25), (28.49, 5.2), (28.99, 3.6), (28.08, 3.5), (28.73, 4.3), (28.31, 2.98), (28.86, 2.4),
    (28.53, 4.45), (28.23, 4.0), (28.67, 2.75), (28.4, 2.65), (28.91, 4.15), (28.06, 2.68), (28.76, 3.25),
    (28.48, 3.55), (28.15, 4.25), (28.81, 3.1), (28.35, 4.8), (28.58, 3.75), (28.13, 3.08), (28.69, 4.85),
    (28.44, 4.3), (28.96, 2.6), (28.27, 3.3), (28.62, 2.32), (28.8, 3.8), (28.37, 3.5), (28.01, 3.25),
    (28.52, 5.4), (28.75, 2.85), (28.19, 4.5), (28.89, 3.55), (28.47, 2.48), (28.66, 4.05), (28.11, 3.85),
    (28.93, 3.2), (28.28, 4.65), (28.56, 3.1), (28.72, 3.65), (28.05, 3.8), (28.59, 2.9), (28.24, 3.65),
    (28.85, 2.92), (28.39, 3.15), (28.14, 2.85), (28.7, 3.38), (28.32, 2.36), (28.95, 3.45), (28.5, 2.92),
    (28.03, 2.98), (28.65, 4.4), (28.26, 4.35), (28.87, 2.7), (28.42, 3.92), (28.09, 4.1), (28.54, 3.4),
    (28.98, 3.15), (28.34, 2.82), (28.79, 4.15), (28.18, 3.5), (28.61, 3.82), (28.45, 2.28), (28.92, 3.78),
    (28.07, 2.55), (28.74, 3.05), (28.3, 3.45), (28.84, 4.45), (28.51, 3.7), (28.22, 3.18), (28.16, 2.96),
    (28.41, 3.62), (28.63, 3.0), (28.82, 2.52), (28.36, 2.45), (28.9, 3.3), (28.2, 4.05), (28.68, 2.65),
    (28.57, 3.25), (28.0, 2.6),
]
LAYER3_MID = [
    (22.06, 4.6), (22.37, 6.2), (22.18, 3.9), (22.81, 5.0), (22.45, 4.3), (22.63, 7.1), (22.91, 3.8),
    (22.27, 5.6), (22.72, 4.15), (22.53, 8.0), (23.09, 4.8), (23.44, 3.85), (23.23, 6.0), (23.67, 5.2),
    (23.31, 4.35), (23.86, 6.7), (23.58, 3.75), (23.97, 4.9), (23.14, 7.3), (23.76, 4.05), (24.08, 5.1),
    (24.36, 6.4), (24.17, 3.9), (24.63, 4.55), (24.27, 7.1), (24.82, 3.95), (24.45, 5.3), (24.92, 6.6),
    (24.53, 4.0), (24.71, 5.8), (22.12, 7.0), (22.49, 4.05), (22.28, 5.0), (22.66, 3.65), (22.87, 6.4),
    (22.33, 8.4), (22.98, 4.45), (22.58, 5.75), (22.75, 4.9), (22.19, 3.7), (23.04, 5.45), (23.36, 7.7),
    (23.19, 4.0), (23.52, 4.65), (23.29, 3.65), (23.71, 6.2), (23.47, 5.6), (23.91, 3.8), (23.63, 4.3),
    (23.83, 5.0), (24.03, 3.85), (24.31, 4.9), (24.12, 6.8), (24.48, 4.25), (24.22, 5.55), (24.59, 3.7),
    (24.39, 4.45), (24.76, 7.6), (24.67, 4.9), (24.98, 4.45), (22.09, 5.8), (22.41, 4.7), (22.23, 6.7),
    (22.61, 4.4), (22.79, 3.75), (22.94, 7.8), (22.52, 3.95), (22.69, 5.35), (22.84, 5.5), (22.31, 4.2),
    (23.07, 3.9), (23.27, 5.2), (23.41, 4.55), (23.56, 6.8), (23.12, 4.25), (23.79, 4.5), (23.94, 5.8),
    (23.61, 4.1), (23.35, 5.9), (23.88, 4.25), (24.06, 6.6), (24.19, 4.6), (24.34, 3.65), (24.55, 5.0),
    (24.29, 4.3), (24.73, 4.15), (24.86, 5.45), (24.43, 7.0), (24.62, 6.1), (24.95, 3.85), (21.6, 4.5),
    (21.75, 6.0), (21.9, 4.1), (21.55, 7.3), (21.85, 5.3), (21.68, 3.95), (21.95, 5.8), (21.78, 8.1),
    (21.62, 5.0), (21.92, 3.85),
]

ALL_DOTS = (DOTS_UPPER + DOTS_LEFT + DOTS_MID + DOTS_MID_EXTRA + DOTS_FRINGE + DOTS_BAND_TOP + DOTS_LOW
            + CORE_2500 + CORE_2525 + CORE_2550 + CORE_2575
            + CORE_2600 + CORE_2625 + CORE_2650 + CORE_2675
            + CORE_2700 + CORE_2725 + CORE_2750 + CORE_2775
            + CORE_2800 + CORE_2825 + CORE_2850 + CORE_2875
            + DENSE_250 + DENSE_255 + DENSE_260 + DENSE_265
            + DENSE_270 + DENSE_275 + DENSE_280 + DENSE_285
            + LAYER3_25 + LAYER3_26 + LAYER3_27 + LAYER3_28 + LAYER3_MID)

X_TICKS = [16, 18, 20, 22, 24, 26, 28]
Y_TICKS = [1, 3, 10, 30, 100]
Y_MINOR = [2, 4, 5, 6, 7, 8, 9, 20, 40, 50, 60, 70, 80, 90, 200]

SERIF = "Liberation Serif"
FONT = "DejaVu Sans"

fig = go.Figure()

fig.add_trace(go.Scatter(
    x=[p[0] for p in ALL_DOTS], y=[p[1] for p in ALL_DOTS],
    mode="markers", marker=dict(size=3.8, color="black"),
    name="all", hoverinfo="skip",
))
fig.add_trace(go.Scatter(
    x=[p[0] for p in CLUSTER], y=[p[1] for p in CLUSTER],
    mode="markers",
    marker=dict(size=11, color="#0000ff", line=dict(width=1, color="black")),
    name="cluster",
))
fig.add_trace(go.Scatter(
    x=LOCUS_MAG, y=LOCUS_RAD,
    mode="lines", line=dict(color="red", width=5, dash="16px,17px"),
    name="locus",
))
fig.add_trace(go.Scatter(
    x=[p[0] for p in POINT_SRC], y=[p[1] for p in POINT_SRC],
    mode="markers", marker=dict(symbol="star", size=12, color="red", line=dict(width=0)),
    name="Point Source",
))
fig.add_vline(x=MAG_LIMIT, line=dict(color="red", width=6, dash="4px,7px"))

# legend block: sample name and point-source key
fig.add_annotation(
    text=('<span style="font-size:27px">&nbsp;&nbsp;M0416-clu</span><br>'
          '<span style="color:red;font-size:15px">★</span>'
          '<span style="font-size:19.5px">Point Source</span>'),
    xref="paper", yref="paper", x=0.016, y=0.975,
    xanchor="left", yanchor="top", align="left", showarrow=False,
    font=dict(family=FONT, size=14, color="black"),
)

# axis titles
fig.add_annotation(
    text=(f'<span style="font-family:{SERIF}"><i>I</i><sub><i>F</i>814<i>W</i></sub></span> or '
          f'<span style="font-family:{SERIF}"><i>H</i><sub><i>F</i>160<i>W</i></sub></span> (AB mag)'),
    xref="paper", yref="paper", x=0.5, y=-0.11,
    xanchor="center", yanchor="middle", showarrow=False,
    font=dict(family=FONT, size=33, color="black"),
)
fig.add_annotation(
    text=f'FLUX<sub><span style="font-family:{SERIF}">RADIUS</span></sub> [pix]',
    xref="paper", yref="paper", x=-0.126, y=0.5, textangle=-90,
    xanchor="center", yanchor="middle", showarrow=False,
    font=dict(family=FONT, size=30, color="black"),
)

fig.update_xaxes(
    range=[16, 29], tickvals=X_TICKS, ticks="inside", ticklen=16, tickwidth=2,
    showline=True, linewidth=2.5, linecolor="black", mirror="ticks",
    showgrid=False, zeroline=False,
    tickfont=dict(family=FONT, size=25, color="black"),
)
fig.update_yaxes(
    type="log", range=[0, 2.301], tickvals=Y_TICKS, ticktext=[str(v) for v in Y_TICKS],
    ticks="inside", ticklen=16, tickwidth=2,
    minor=dict(tickvals=Y_MINOR, ticks="inside", ticklen=8, tickwidth=2, tickcolor="black", showgrid=False),
    showline=True, linewidth=2.5, linecolor="black", mirror="ticks",
    showgrid=False, zeroline=False,
    tickfont=dict(family=FONT, size=25, color="black"),
)
fig.update_layout(
    width=829, height=730,
    margin=dict(l=109, r=40, t=23, b=103),
    plot_bgcolor="white", paper_bgcolor="white",
    showlegend=False,
)

fig.write_html("out.html")
